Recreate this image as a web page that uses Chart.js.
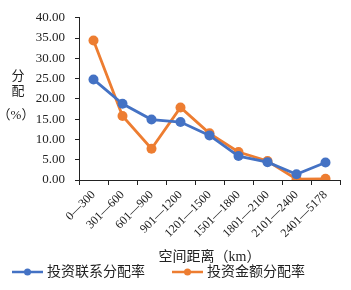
<!DOCTYPE html>
<html>
<head>
<meta charset="utf-8">
<script src="https://cdn.jsdelivr.net/npm/chart.js@4"></script>
<style>
  body { margin: 0; background: #fff; }
  #wrap { width: 351px; height: 290px; }
</style>
</head>
<body>
<div id="wrap"><canvas id="distChart" width="351" height="290"></canvas></div>
<script>
// categories (distance bands, km)
var labels = ["0\u2014300", "301\u2014600", "601\u2014900", "901\u20141200", "1201\u20141500",
              "1501\u20141800", "1801\u20142100", "2101\u20142400", "2401\u20145178"];
// investment link distribution rate (%)
var linkRate = [24.8, 18.8, 14.9, 14.3, 11.0, 5.9, 4.4, 1.4, 4.3];
// investment amount distribution rate (%)
var amountRate = [34.4, 15.8, 7.7, 17.9, 11.5, 6.9, 4.7, 0.2, 0.3];
var yTicks = [0, 5, 10, 15, 20, 25, 30, 35, 40];

var fontFam = "'Liberation Serif', 'Times New Roman', 'Noto Sans CJK SC', serif";
var blue = "#4472C4";
var orange = "#ED7D31";
var textCol = '#222';

// y axis title + legend drawn by hand
var extras = {
    id: 'extras',
    afterDraw: function (chart) {
        var ctx = chart.ctx;
        ctx.save();
        ctx.fillStyle = textCol;
        ctx.font = "13px " + fontFam;
        ctx.textAlign = 'center';
        ctx.textBaseline = 'middle';
        ctx.fillText('分', 18, 77);
        ctx.fillText('配', 18, 92);
        ctx.fillText('（%）', 16, 116);

        // legend
        var items = chart.data.datasets;
        var xs = [12, 172];
        var y = 272;
        ctx.font = "14px " + fontFam;
        items.forEach(function (ds, i) {
            var x = xs[i];
            ctx.strokeStyle = ds.borderColor;
            ctx.lineWidth = 2.5;
            ctx.beginPath();
            ctx.moveTo(x, y);
            ctx.lineTo(x + 31, y);
            ctx.stroke();
            ctx.fillStyle = ds.borderColor;
            ctx.beginPath();
            ctx.arc(x + 15.5, y, 3.5, 0, Math.PI * 2);
            ctx.fill();
            ctx.fillStyle = textCol;
            ctx.textAlign = 'left';
            ctx.fillText(ds.label, x + 35, y);
        });
        ctx.restore();
    }
};

var ctx = document.getElementById('distChart').getContext('2d');
var distChart = new Chart(ctx, {
    type: 'line',
    data: {
        labels: labels,
        datasets: [{
            label: "投资联系分配率",
            data: linkRate,
            borderColor: blue,
            backgroundColor: blue,
            borderWidth: 2.8,
            pointRadius: 5,
            pointBackgroundColor: blue,
            pointBorderWidth: 0
        }, {
            label: "投资金额分配率",
            data: amountRate,
            borderColor: orange,
            backgroundColor: orange,
            borderWidth: 2.8,
            pointRadius: 5,
            pointBackgroundColor: orange,
            pointBorderWidth: 0
        }]
    },
    options: {
        responsive: false,
        animation: false,
        layout: { padding: { top: 14, right: 11, bottom: 24, left: 0 } },
        plugins: {
            legend: { display: false },
            tooltip: { enabled: false }
        },
        scales: {
            x: {
                offset: true,
                grid: { display: true, drawOnChartArea: false, offset: true, tickLength: 5, color: '#222' },
                border: { display: true, color: '#222', width: 1 },
                ticks: {
                    minRotation: 45, maxRotation: 45, padding: 3,
                    color: textCol, font: { family: fontFam, size: 12 }
                },
                title: {
                    display: true, text: "空间距离（km）", color: textCol,
                    font: { family: fontFam, size: 14 }, padding: { top: 2, bottom: 0 }
                },
                afterFit: function (scale) { scale.height = 86; }
            },
            y: {
                min: 0, max: 40,
                afterBuildTicks: function (scale) {
                    scale.ticks = yTicks.map(function (v) { return { value: v }; });
                },
                grid: { display: true, drawOnChartArea: false, tickLength: 4, color: '#222' },
                border: { display: true, color: '#222', width: 1 },
                ticks: {
                    padding: 10, color: textCol,
                    font: { family: fontFam, size: 13 },
                    callback: function (v) { return Number(v).toFixed(2); }
                },
                afterFit: function (scale) { scale.width = 79; }
            }
        }
    },
    plugins: [extras]
});
</script>
</body>
</html>
